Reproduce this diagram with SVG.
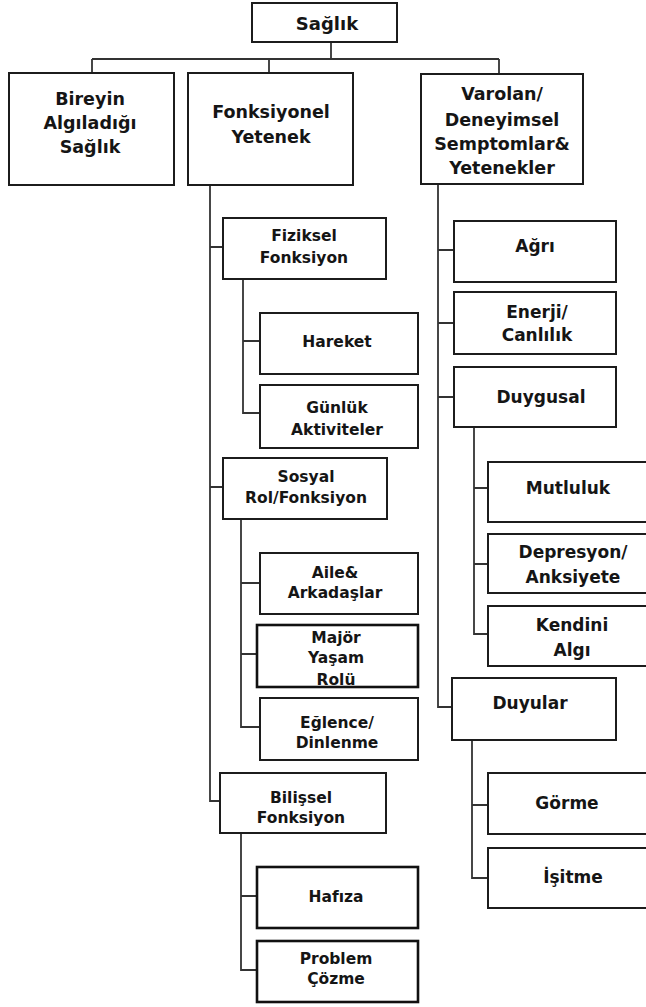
<svg xmlns="http://www.w3.org/2000/svg" width="646" height="1007" viewBox="0 0 646 1007">
<style>
.box{fill:#fff;stroke:#1c1c1c;stroke-width:2}
.heavy{stroke-width:2.6;stroke:#111}
.c{fill:none;stroke:#333;stroke-width:1.8}
text{font-family:"DejaVu Sans","Liberation Sans",sans-serif;font-weight:bold;fill:#151515;text-anchor:middle;dominant-baseline:central}
.t1{font-size:17.5px}
.t0{font-size:18px}
.t2{font-size:15.5px}
.t3{font-size:17px}
</style>
<rect width="646" height="1007" fill="#fff"/>
<g id="connectors">
<path class="c" d="M331 42V59M92 59H499M92 59V73M269 59V73M499 59V74"/>
<path class="c" d="M210 185V801H220M210 247H223M210 487H223"/>
<path class="c" d="M243 279V413H260M243 341H260"/>
<path class="c" d="M241 519V727H260M241 583H260M241 654H257"/>
<path class="c" d="M241 833V970H257M241 896H257"/>
<path class="c" d="M438 184V707H452M438 250H454M438 323H454M438 397H454"/>
<path class="c" d="M474 427V634H488M474 488H488M474 564H488"/>
<path class="c" d="M472 740V878H488M472 805H488"/>
</g>
<g id="saglik"><rect class="box" x="252" y="3" width="145" height="39"/><text class="t0" x="327" y="23">Sağlık</text></g>
<g id="bireyin"><rect class="box" x="9" y="73" width="165" height="112"/><text class="t1" x="90" y="99">Bireyin</text><text class="t1" x="90" y="123">Algıladığı</text><text class="t1" x="90" y="147">Sağlık</text></g>
<g id="fonksiyonel"><rect class="box" x="188" y="73" width="165" height="112"/><text class="t1" x="271" y="112">Fonksiyonel</text><text class="t1" x="271" y="137">Yetenek</text></g>
<g id="varolan"><rect class="box" x="421" y="74" width="162" height="110"/><text class="t1" x="502" y="94">Varolan/</text><text class="t1" x="502" y="120">Deneyimsel</text><text class="t1" x="502" y="144">Semptomlar&amp;</text><text class="t1" x="502" y="168">Yetenekler</text></g>
<g id="fiziksel"><rect class="box" x="223" y="218" width="163" height="61"/><text class="t2" x="304" y="236">Fiziksel</text><text class="t2" x="304" y="258">Fonksiyon</text></g>
<g id="hareket"><rect class="box" x="260" y="313" width="158" height="61"/><text class="t2" x="337" y="342">Hareket</text></g>
<g id="gunluk"><rect class="box" x="260" y="385" width="158" height="63"/><text class="t2" x="337" y="408">Günlük</text><text class="t2" x="337" y="430">Aktiviteler</text></g>
<g id="sosyal"><rect class="box" x="223" y="458" width="164" height="61"/><text class="t2" x="306" y="477">Sosyal</text><text class="t2" x="306" y="498">Rol/Fonksiyon</text></g>
<g id="aile"><rect class="box" x="260" y="553" width="158" height="61"/><text class="t2" x="335" y="573">Aile&amp;</text><text class="t2" x="335" y="593">Arkadaşlar</text></g>
<g id="major"><rect class="box heavy" x="257" y="625" width="161" height="62"/><text class="t2" x="336" y="638">Majör</text><text class="t2" x="336" y="658">Yaşam</text><text class="t2" x="336" y="680">Rolü</text></g>
<g id="eglence"><rect class="box" x="260" y="698" width="158" height="62"/><text class="t2" x="337" y="723">Eğlence/</text><text class="t2" x="337" y="743">Dinlenme</text></g>
<g id="bilissel"><rect class="box" x="220" y="773" width="166" height="60"/><text class="t2" x="301" y="798">Bilişsel</text><text class="t2" x="301" y="818">Fonksiyon</text></g>
<g id="hafiza"><rect class="box heavy" x="257" y="867" width="161" height="61"/><text class="t2" x="336" y="897">Hafıza</text></g>
<g id="problem"><rect class="box heavy" x="257" y="941" width="161" height="61"/><text class="t2" x="336" y="959">Problem</text><text class="t2" x="336" y="979">Çözme</text></g>
<g id="agri"><rect class="box" x="454" y="221" width="162" height="61"/><text class="t3" x="535" y="246">Ağrı</text></g>
<g id="enerji"><rect class="box" x="454" y="292" width="162" height="62"/><text class="t3" x="537" y="312">Enerji/</text><text class="t3" x="537" y="335">Canlılık</text></g>
<g id="duygusal"><rect class="box" x="454" y="367" width="162" height="60"/><text class="t3" x="541" y="397">Duygusal</text></g>
<g id="mutluluk"><rect class="box" x="488" y="462" width="166" height="60"/><text class="t3" x="568" y="488">Mutluluk</text></g>
<g id="depresyon"><rect class="box" x="488" y="534" width="166" height="59"/><text class="t3" x="573" y="552">Depresyon/</text><text class="t3" x="573" y="577">Anksiyete</text></g>
<g id="kendini"><rect class="box" x="488" y="606" width="166" height="60"/><text class="t3" x="572" y="625">Kendini</text><text class="t3" x="572" y="650">Algı</text></g>
<g id="duyular"><rect class="box" x="452" y="678" width="164" height="62"/><text class="t3" x="530" y="703">Duyular</text></g>
<g id="gorme"><rect class="box" x="488" y="773" width="166" height="61"/><text class="t3" x="567" y="803">Görme</text></g>
<g id="isitme"><rect class="box" x="488" y="848" width="166" height="60"/><text class="t3" x="573" y="877">İşitme</text></g>
</svg>
